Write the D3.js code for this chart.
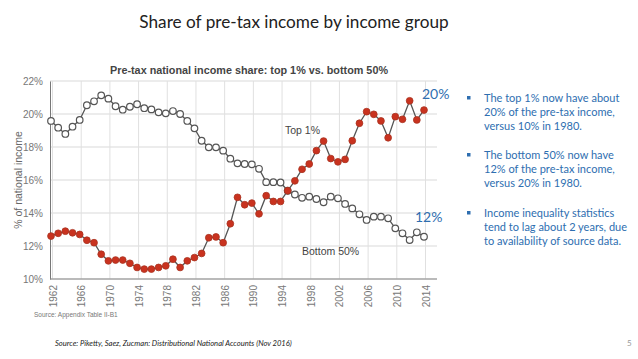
<!DOCTYPE html>
<html><head><meta charset="utf-8">
<script src="https://cdn.jsdelivr.net/npm/d3@7/dist/d3.min.js"></script>
<style>body{margin:0;background:#fff;}svg{display:block;}</style>
</head><body>
<svg id="chart" width="638" height="359"></svg>
<script>
const years = [1962,1963,1964,1965,1966,1967,1968,1969,1970,1971,1972,1973,1974,1975,1976,1977,1978,1979,1980,1981,1982,1983,1984,1985,1986,1987,1988,1989,1990,1991,1992,1993,1994,1995,1996,1997,1998,1999,2000,2001,2002,2003,2004,2005,2006,2007,2008,2009,2010,2011,2012,2013,2014];
const top1 = [12.6,12.77,12.9,12.8,12.7,12.35,12.2,11.5,11.1,11.15,11.15,10.95,10.7,10.6,10.6,10.7,10.8,11.2,10.7,11.1,11.3,11.55,12.5,12.55,12.2,13.35,14.95,14.5,14.6,13.95,15.05,14.7,14.7,15.35,15.95,16.65,16.97,17.78,18.36,17.3,17.1,17.25,18.38,19.44,20.14,19.98,19.58,18.56,19.84,19.68,20.8,19.64,20.24];
const bottom50 = [19.58,19.17,18.79,19.23,19.64,20.53,20.77,21.13,20.93,20.47,20.26,20.44,20.59,20.35,20.28,20.1,20.04,20.18,20.0,19.58,19.13,18.38,17.98,17.98,17.78,17.29,17.01,16.97,16.95,16.68,15.87,15.87,15.85,15.35,15.12,14.92,14.99,14.85,14.65,14.99,14.89,14.55,14.28,13.92,13.58,13.78,13.78,13.68,13.07,12.77,12.36,12.83,12.56];
const xTickYears = [1962,1966,1970,1974,1978,1982,1986,1990,1994,1998,2002,2006,2010,2014];
const yTicks = [10,12,14,16,18,20,22];
const bullets = [
  ["The top 1% now have about","20% of the pre-tax income,","versus 10% in 1980."],
  ["The bottom 50% now have","12% of the pre-tax income,","versus 20% in 1980."],
  ["Income inequality statistics","tend to lag about 2 years, due","to availability of source data."]
];
const endLabels = ["20%","12%"];

const svg = d3.select("#chart");
const blue = "#2e6eb0";

// slide title
svg.append("text").attr("x",294).attr("y",28).attr("text-anchor","middle")
  .attr("font-family","Lato, 'Open Sans', sans-serif").attr("font-size",17.2).attr("fill","#222")
  .text("Share of pre-tax income by income group");

const x = d3.scaleLinear().domain([1962,2014]).range([51,424]);
const y = d3.scaleLinear().domain([10,22]).range([279,81]);
const left = 50, right = 437;

// gridlines
const g = svg.append("g");
g.selectAll("line.h").data(yTicks).join("line").attr("class","h")
  .attr("x1",left).attr("x2",right).attr("y1",d=>y(d)).attr("y2",d=>y(d))
  .attr("stroke","#d9d9d9").attr("stroke-width",1);
g.selectAll("line.v").data(xTickYears).join("line").attr("class","v")
  .attr("x1",d=>x(d)+1.5).attr("x2",d=>x(d)+1.5).attr("y1",y(22)).attr("y2",y(10))
  .attr("stroke","#e0e0e0").attr("stroke-width",1);

// axes
const yAxis = d3.axisLeft(y).tickValues(yTicks).tickFormat(d=>d+"%").tickSize(0).tickPadding(7);
const ya = svg.append("g").attr("transform",`translate(${left},0)`).call(yAxis);
ya.select(".domain").attr("stroke","#777");
ya.selectAll("text").attr("font-family","Liberation Sans, Arial, sans-serif").attr("font-size",10).attr("fill","#777");

const xAxis = d3.axisBottom(x).tickValues(xTickYears).tickFormat(d=>d).tickSize(0).tickPadding(6);
const xa = svg.append("g").attr("transform",`translate(0,${y(10)})`).call(xAxis);
xa.select(".domain").remove();
svg.append("line").attr("x1",left).attr("x2",right).attr("y1",y(10)).attr("y2",y(10)).attr("stroke","#888").attr("stroke-width",1.2);
xa.selectAll("text").attr("font-family","Liberation Sans, Arial, sans-serif").attr("font-size",10).attr("fill","#777")
  .attr("text-anchor","end").attr("transform",function(d){return `translate(${1.5},0) rotate(-90)`;})
  .attr("dy","0.35em").attr("x",-6).attr("y",0);

// y label
svg.append("text").attr("transform","translate(22,180) rotate(-90)").attr("text-anchor","middle")
  .attr("font-family","Liberation Sans, Arial, sans-serif").attr("font-size",10.5).attr("fill","#666")
  .text("% of national income");

// inner title
svg.append("text").attr("x",249).attr("y",74).attr("text-anchor","middle")
  .attr("font-family","Liberation Sans, Arial, sans-serif").attr("font-weight","bold").attr("font-size",11).attr("fill","#444")
  .attr("textLength",278).attr("lengthAdjust","spacingAndGlyphs")
  .text("Pre-tax national income share: top 1% vs. bottom 50%");

// lines
const line = d3.line().x((d,i)=>x(years[i])).y(d=>y(d));
svg.append("path").datum(bottom50).attr("d",line).attr("fill","none").attr("stroke","#555").attr("stroke-width",1.3);
svg.append("path").datum(top1).attr("d",line).attr("fill","none").attr("stroke","#555").attr("stroke-width",1.3);

svg.append("g").selectAll("circle").data(bottom50).join("circle")
  .attr("cx",(d,i)=>x(years[i])).attr("cy",d=>y(d)).attr("r",3.3)
  .attr("fill","#fff").attr("stroke","#555").attr("stroke-width",1.2);
svg.append("g").selectAll("circle").data(top1).join("circle")
  .attr("cx",(d,i)=>x(years[i])).attr("cy",d=>y(d)).attr("r",3.4)
  .attr("fill","#c9321f").attr("stroke","#a8321f").attr("stroke-width",0.8);

// series labels
svg.append("text").attr("x",285).attr("y",134).attr("font-family","Liberation Sans, Arial, sans-serif").attr("font-size",10.5).attr("fill","#444").text("Top 1%");
svg.append("text").attr("x",302).attr("y",255).attr("font-family","Liberation Sans, Arial, sans-serif").attr("font-size",10.5).attr("fill","#444").text("Bottom 50%");

// end labels
svg.append("text").attr("x",422).attr("y",99).attr("font-family","Lato, 'Open Sans', sans-serif").attr("font-size",14).attr("fill",blue).text(endLabels[0]);
svg.append("text").attr("x",415).attr("y",222).attr("font-family","Lato, 'Open Sans', sans-serif").attr("font-size",14).attr("fill",blue).text(endLabels[1]);

// source
svg.append("text").attr("x",34).attr("y",317).attr("font-family","Liberation Sans, Arial, sans-serif").attr("font-size",6.5).attr("fill","#777").text("Source: Appendix Table II-B1");

// bullets
const by = [102,159,217];
bullets.forEach((lines,bi)=>{
  svg.append("rect").attr("x",467).attr("y",by[bi]-6).attr("width",3.5).attr("height",3.5).attr("fill",blue);
  lines.forEach((t,li)=>{
    svg.append("text").attr("x",484).attr("y",by[bi]+li*14).attr("font-family","Lato, 'Open Sans', sans-serif")
      .attr("font-size",11).attr("fill",blue).text(t);
  });
});

// footer
svg.append("text").attr("x",55).attr("y",346).attr("font-family","Lato, 'Open Sans', sans-serif").attr("font-style","italic")
  .attr("font-size",7.6).attr("fill","#222").text("Source: Piketty, Saez, Zucman: Distributional National Accounts (Nov 2016)");
svg.append("text").attr("x",627).attr("y",346).attr("font-family","Lato, sans-serif").attr("font-size",8).attr("fill","#999").text("5");
</script>
</body></html>
